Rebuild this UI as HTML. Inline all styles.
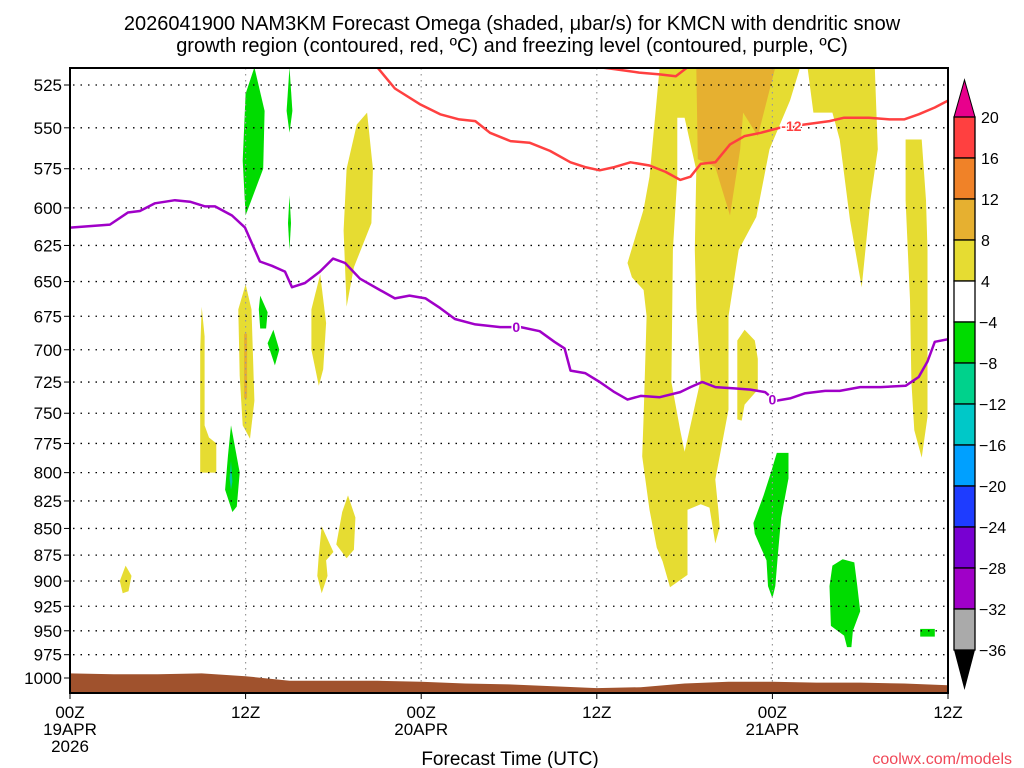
<!DOCTYPE html>
<html><head><meta charset="utf-8">
<style>
html,body{margin:0;padding:0;background:#fff;width:1024px;height:768px;overflow:hidden}
svg{display:block;font-family:"Liberation Sans","DejaVu Sans",sans-serif}
</style></head>
<body>
<svg id="chart" width="1024" height="768" viewBox="0 0 1024 768" xmlns="http://www.w3.org/2000/svg">
<text x="512" y="30" text-anchor="middle" font-size="20" fill="#000">2026041900 NAM3KM Forecast Omega (shaded, μbar/s) for KMCN with dendritic snow</text>
<text x="512" y="52" text-anchor="middle" font-size="20" fill="#000">growth region (contoured, red, ºC) and freezing level (contoured, purple, ºC)</text>
<g id="shade"></g>
<g id="grid"></g>
<g id="ground"></g>
<g id="lines"></g>
<rect x="70" y="68" width="878" height="625" fill="none" stroke="#000" stroke-width="2"/>
<g id="axes"></g>
<g id="cbar"></g>
<text x="510" y="765" text-anchor="middle" font-size="19" fill="#000">Forecast Time (UTC)</text>
<text x="1012" y="764" text-anchor="end" font-size="16" fill="#f04858">coolwx.com/models</text>
</svg>
<script>
// ---- data ----
const pressureTicks = [525,550,575,600,625,650,675,700,725,750,775,800,825,850,875,900,925,950,975,1000];
const hourTicks = [0,12,24,36,48,60];
const hourTickLabels = [["00Z","19APR","2026"],["12Z"],["00Z","20APR"],["12Z"],["00Z","21APR"],["12Z"]];
const surfaceHours = [0,3,6,9,12,15,18,21,24,27,30,33,36,39,42,45,48,51,54,57,60];
const surfacePressure = [995,996,996,995,998,1003,1003,1003,1004,1006,1007,1009,1011,1010,1006,1004,1004,1005,1005,1006,1008];
const dgzHours = [21.0,22.2,23.9,25.3,26.6,27.7,28.7,30.1,31.4,32.8,34.2,35.2,36.2,37.2,38.3,39.6,40.7,41.7,42.4,43.1,44.1,45.1,46.1,47.2,48.5,50.2,51.9,52.9,54.6,56.0,57.0,58.0,59.1,60.0];
const dgzPressure = [515,527,536,542,545,546,553,558,559,564,571,574,576,574,571,573,577,582,580,572,571,560,555,553,550,548,546,544,544,545,545,542,538,534];
const dgzTopHours = [36.2,37.2,38.9,40.3,41.4,42.2];
const dgzTopPressure = [515,516,518,519,520,515];
const frzHours = [0,1.37,2.73,3.96,4.78,5.81,7.17,8.2,9.23,9.91,11.07,11.96,12.98,13.8,14.69,15.17,16.06,17.08,17.97,18.8,19.82,21.18,22.2,23.2,24.3,25.3,26.3,27.7,29.4,30.8,32.1,33.1,33.8,34.2,35.2,36.2,37.2,38.1,39.0,40.3,41.7,42.4,43.2,44.1,45.4,46.5,47.5,48.2,49.2,50.2,51.6,52.6,54.0,55.4,57.1,58.0,58.6,59.1,60];
const frzPressure = [613,612,611,603,602,597,595,596,599,599,605,613,636,639,643,654,651,643,634,637,648,656,662,660,662,669,677,681,683,683,686,694,699,716,718,725,733,739,736,737,733,729,725,729,730,731,733,740,738,734,732,732,729,729,728,721,709,694,692];
// omega shaded regions: [value band, [[hour,pressure],...]]
const omegaYellow = [
 [[40.3,515],[49.9,515],[49.2,534],[47.8,563],[46.9,606],[45.7,628],[45.0,675],[45.0,747],[44.1,806],[44.3,833],[44.4,849],[44.1,864],[43.7,831],[43.1,828],[42.2,833],[42.2,894],[41.0,906],[40.5,881],[40.1,868],[39.6,833],[39.1,786],[39.2,753],[39.4,675],[39.2,656],[38.4,647],[38.1,637],[39.2,601],[39.6,580]],
 [[50.4,515],[55.0,515],[55.1,539],[55.2,563],[54.7,595],[54.1,654],[53.3,608],[52.6,557],[52.1,541],[50.8,541]],
 [[57.1,557],[58.2,557],[58.5,595],[58.6,628],[58.6,700],[58.6,753],[58.2,787],[57.7,764],[57.5,725],[57.4,663],[57.1,595]],
 [[46.1,685],[46.8,693],[47.0,707],[47.0,731],[46.1,743],[45.9,756],[45.6,755],[45.6,693]],
 [[3.8,885],[4.2,895],[4.0,910],[3.6,912],[3.4,900]],
 [[9.0,668],[9.2,690],[9.2,760],[9.5,770],[10.0,775],[10.0,800],[8.9,800],[8.9,700]],
 [[12.0,652],[12.4,670],[12.6,740],[12.3,771],[11.8,760],[11.6,720],[11.5,670]],
 [[17.1,645],[17.5,680],[17.3,715],[17.0,728],[16.5,700],[16.5,670]],
 [[20.3,541],[20.7,575],[20.6,610],[19.4,640],[18.9,668],[18.7,615],[18.9,575],[19.6,548]],
 [[17.2,848],[18.0,872],[17.5,880],[17.6,895],[17.2,912],[16.9,895],[17.0,875]],
 [[19.0,820],[19.5,840],[19.4,870],[18.9,878],[18.2,865],[18.6,835]]
];
const omegaGap = [
 [[41.5,544],[42.0,544],[42.8,576],[42.7,628],[42.8,669],[43.1,723],[42.0,782],[41.7,764],[41.1,725],[41.2,628],[41.5,580]]
];
const omegaOrange = [
 [[42.8,515],[48.2,515],[47.8,528],[47.0,555],[46.0,541],[45.8,563],[45.1,605],[44.1,574],[42.9,569]],
 [[11.9,688],[12.1,688],[12.1,738],[11.9,738]]
];
const omegaGreen = [
 [[12.6,515],[13.3,540],[13.2,575],[12.0,605],[11.8,570],[12.0,530]],
 [[15.0,515],[15.2,540],[15.0,553],[14.8,540]],
 [[15.0,592],[15.1,610],[15.0,628],[14.9,610]],
 [[13.0,660],[13.5,672],[13.4,684],[13.0,684],[12.9,670]],
 [[13.9,685],[14.3,700],[14.0,712],[13.5,695]],
 [[11.0,760],[11.6,800],[11.4,830],[11.1,835],[10.6,815],[10.8,785]],
 [[48.3,783],[49.1,783],[49.1,805],[48.6,840],[48.4,870],[48.2,905],[48.0,917],[47.7,905],[47.6,880],[46.8,855],[46.7,845],[47.4,820],[47.9,800]],
 [[52.8,879],[53.6,882],[53.8,905],[54.0,930],[53.5,950],[53.4,967],[53.1,967],[52.9,955],[52.0,945],[51.9,905],[52.1,885]],
 [[58.1,948],[59.1,948],[59.1,956],[58.1,956]]
];
const omegaTeal = [
 [[11.0,790],[11.1,808],[11.0,815],[10.9,805]]
];
const cbarLevels = ["20","16","12","8","4","-4","-8","-12","-16","-20","-24","-28","-32","-36"];
const cbarColors = ["#ff4040","#f08228","#e6b030","#e6dc32","#ffffff","#00dc00","#00d28c","#00c8c8","#00a0ff","#1e3cff","#7800d2","#a000c8","#aaaaaa"];

// ---- scales ----
const X0=70,X1=948,Y525=85,Y1000=678;
function xs(h){return X0+h*(X1-X0)/60;}
function ys(p){return Y525+(Math.log(p)-Math.log(525))/(Math.log(1000)-Math.log(525))*(Y1000-Y525);}
const NS="http://www.w3.org/2000/svg";
function mk(tag,parent){const e=document.createElementNS(NS,tag);parent.appendChild(e);return e;}
function pts(arr){return arr.map(d=>xs(d[0]).toFixed(1)+","+ys(d[1]).toFixed(1)).join(" ");}

// clip
const defs=mk("defs",document.getElementById("chart"));
const cp=mk("clipPath",defs);cp.setAttribute("id","plotclip");
const cr=mk("rect",cp);cr.setAttribute("x",X0);cr.setAttribute("y",68);cr.setAttribute("width",X1-X0);cr.setAttribute("height",625);

const shade=document.getElementById("shade");
shade.setAttribute("clip-path","url(#plotclip)");
function drawSet(set,color,name){
  set.forEach(poly=>{
    const e=mk("polygon",shade);
    
    
    e.setAttribute("points",pts(poly));e.setAttribute("fill",color);
  });
}
drawSet(omegaYellow,"#e6dc32","omega-region-4-8");
drawSet(omegaGap,"#ffffff","omega-region-gap");
drawSet(omegaOrange,"#e6b030","omega-region-8-12");
drawSet(omegaGreen,"#00dc00","omega-region-neg4-neg8");
drawSet(omegaTeal,"#00c8a0","omega-region-neg8-neg12");

// grid
const grid=document.getElementById("grid");
pressureTicks.forEach(p=>{
  const l=mk("line",grid);
  
  
  l.setAttribute("x1",X0+3);l.setAttribute("x2",X1);l.setAttribute("y1",ys(p));l.setAttribute("y2",ys(p));
  l.setAttribute("stroke","#000");l.setAttribute("stroke-width","1.3");l.setAttribute("stroke-dasharray","1.5 6");
});
hourTicks.slice(1,5).forEach(h=>{
  const l=mk("line",grid);
  
  
  l.setAttribute("x1",xs(h));l.setAttribute("x2",xs(h));l.setAttribute("y1",68);l.setAttribute("y2",693);
  l.setAttribute("stroke","#999");l.setAttribute("stroke-width","1.2");l.setAttribute("stroke-dasharray","1.5 4.5");
});

// ground
const g=document.getElementById("ground");
let gp=[[surfaceHours[0],1016]];
surfaceHours.forEach((h,i)=>gp.push([h,surfacePressure[i]]));
gp.push([60,1016]);
const gpoly=mk("polygon",g);


gpoly.setAttribute("points",pts(gp));gpoly.setAttribute("fill","#a0522d");

// lines
const L=document.getElementById("lines");
L.setAttribute("clip-path","url(#plotclip)");
function line(hs,ps,color,name){
  const e=mk("polyline",L);
  
  
  e.setAttribute("points",pts(hs.map((h,i)=>[h,ps[i]])));
  e.setAttribute("fill","none");e.setAttribute("stroke",color);e.setAttribute("stroke-width","2.5");e.setAttribute("stroke-linejoin","round");
}
line(dgzHours,dgzPressure,"#ff4040","dgz-minus12-contour");
line(dgzTopHours,dgzTopPressure,"#ff4040","dgz-minus12-contour-top");
line(frzHours,frzPressure,"#a000c8","freezing-level-contour");
function clabel(h,p,txt,color,name){
  const r=mk("rect",L);
  
  
  r.setAttribute("x",xs(h)-9);r.setAttribute("y",ys(p)-8);r.setAttribute("width",18);r.setAttribute("height",16);r.setAttribute("fill","#fff");r.setAttribute("fill-opacity","0");
  const t=mk("text",L);
  
  
  t.setAttribute("x",xs(h));t.setAttribute("y",ys(p)+5);t.setAttribute("text-anchor","middle");
  t.setAttribute("font-size","14");t.setAttribute("font-weight","bold");t.setAttribute("fill",color);
  t.setAttribute("stroke","#fff");t.setAttribute("stroke-width","3");t.setAttribute("paint-order","stroke");
  t.textContent=txt;
}
clabel(49.3,549,"-12","#ff4040","dgz-contour-label");
clabel(30.5,683,"0","#a000c8","freezing-label-1");
clabel(48.0,739,"0","#a000c8","freezing-label-2");

// axes
const A=document.getElementById("axes");
pressureTicks.forEach(p=>{
  const t=mk("text",A);
  
  
  t.setAttribute("x",62);t.setAttribute("y",ys(p)+6);t.setAttribute("text-anchor","end");t.setAttribute("font-size","17");
  t.textContent=p;
  const k=mk("line",A);
  
  
  k.setAttribute("x1",64);k.setAttribute("x2",70);k.setAttribute("y1",ys(p));k.setAttribute("y2",ys(p));k.setAttribute("stroke","#000");
});
hourTicks.forEach((h,i)=>{
  const k=mk("line",A);
  
  
  k.setAttribute("x1",xs(h));k.setAttribute("x2",xs(h));k.setAttribute("y1",693);k.setAttribute("y2",699);k.setAttribute("stroke","#000");
  hourTickLabels[i].forEach((s,j)=>{
    const t=mk("text",A);
    
    
    t.setAttribute("x",xs(h));t.setAttribute("y",718+j*17);t.setAttribute("text-anchor","middle");t.setAttribute("font-size","17");
    t.textContent=s;
  });
});

// colorbar
const C=document.getElementById("cbar");
const cx0=954,cx1=975,ctop=117,cstep=41;
const tri=mk("polygon",C);


tri.setAttribute("points",`${cx0},${ctop} ${cx1},${ctop} ${(cx0+cx1)/2},80`);tri.setAttribute("fill","#e8008c");tri.setAttribute("stroke","#000");
cbarColors.forEach((c,i)=>{
  const r=mk("rect",C);
  
  
  r.setAttribute("x",cx0);r.setAttribute("y",ctop+i*cstep);r.setAttribute("width",cx1-cx0);r.setAttribute("height",cstep);
  r.setAttribute("fill",c);r.setAttribute("stroke","#000");r.setAttribute("stroke-width","1.3");
});
const ybot=ctop+cbarColors.length*cstep;
const tri2=mk("polygon",C);


tri2.setAttribute("points",`${cx0},${ybot} ${cx1},${ybot} ${(cx0+cx1)/2},690`);tri2.setAttribute("fill","#000");
cbarLevels.forEach((s,i)=>{
  const t=mk("text",C);
  
  
  t.setAttribute("x",s.startsWith("-")?979:981);t.setAttribute("y",ctop+i*cstep+6);t.setAttribute("font-size","16");
  t.textContent=s.replace("-","−");
});
</script>
</body></html>
